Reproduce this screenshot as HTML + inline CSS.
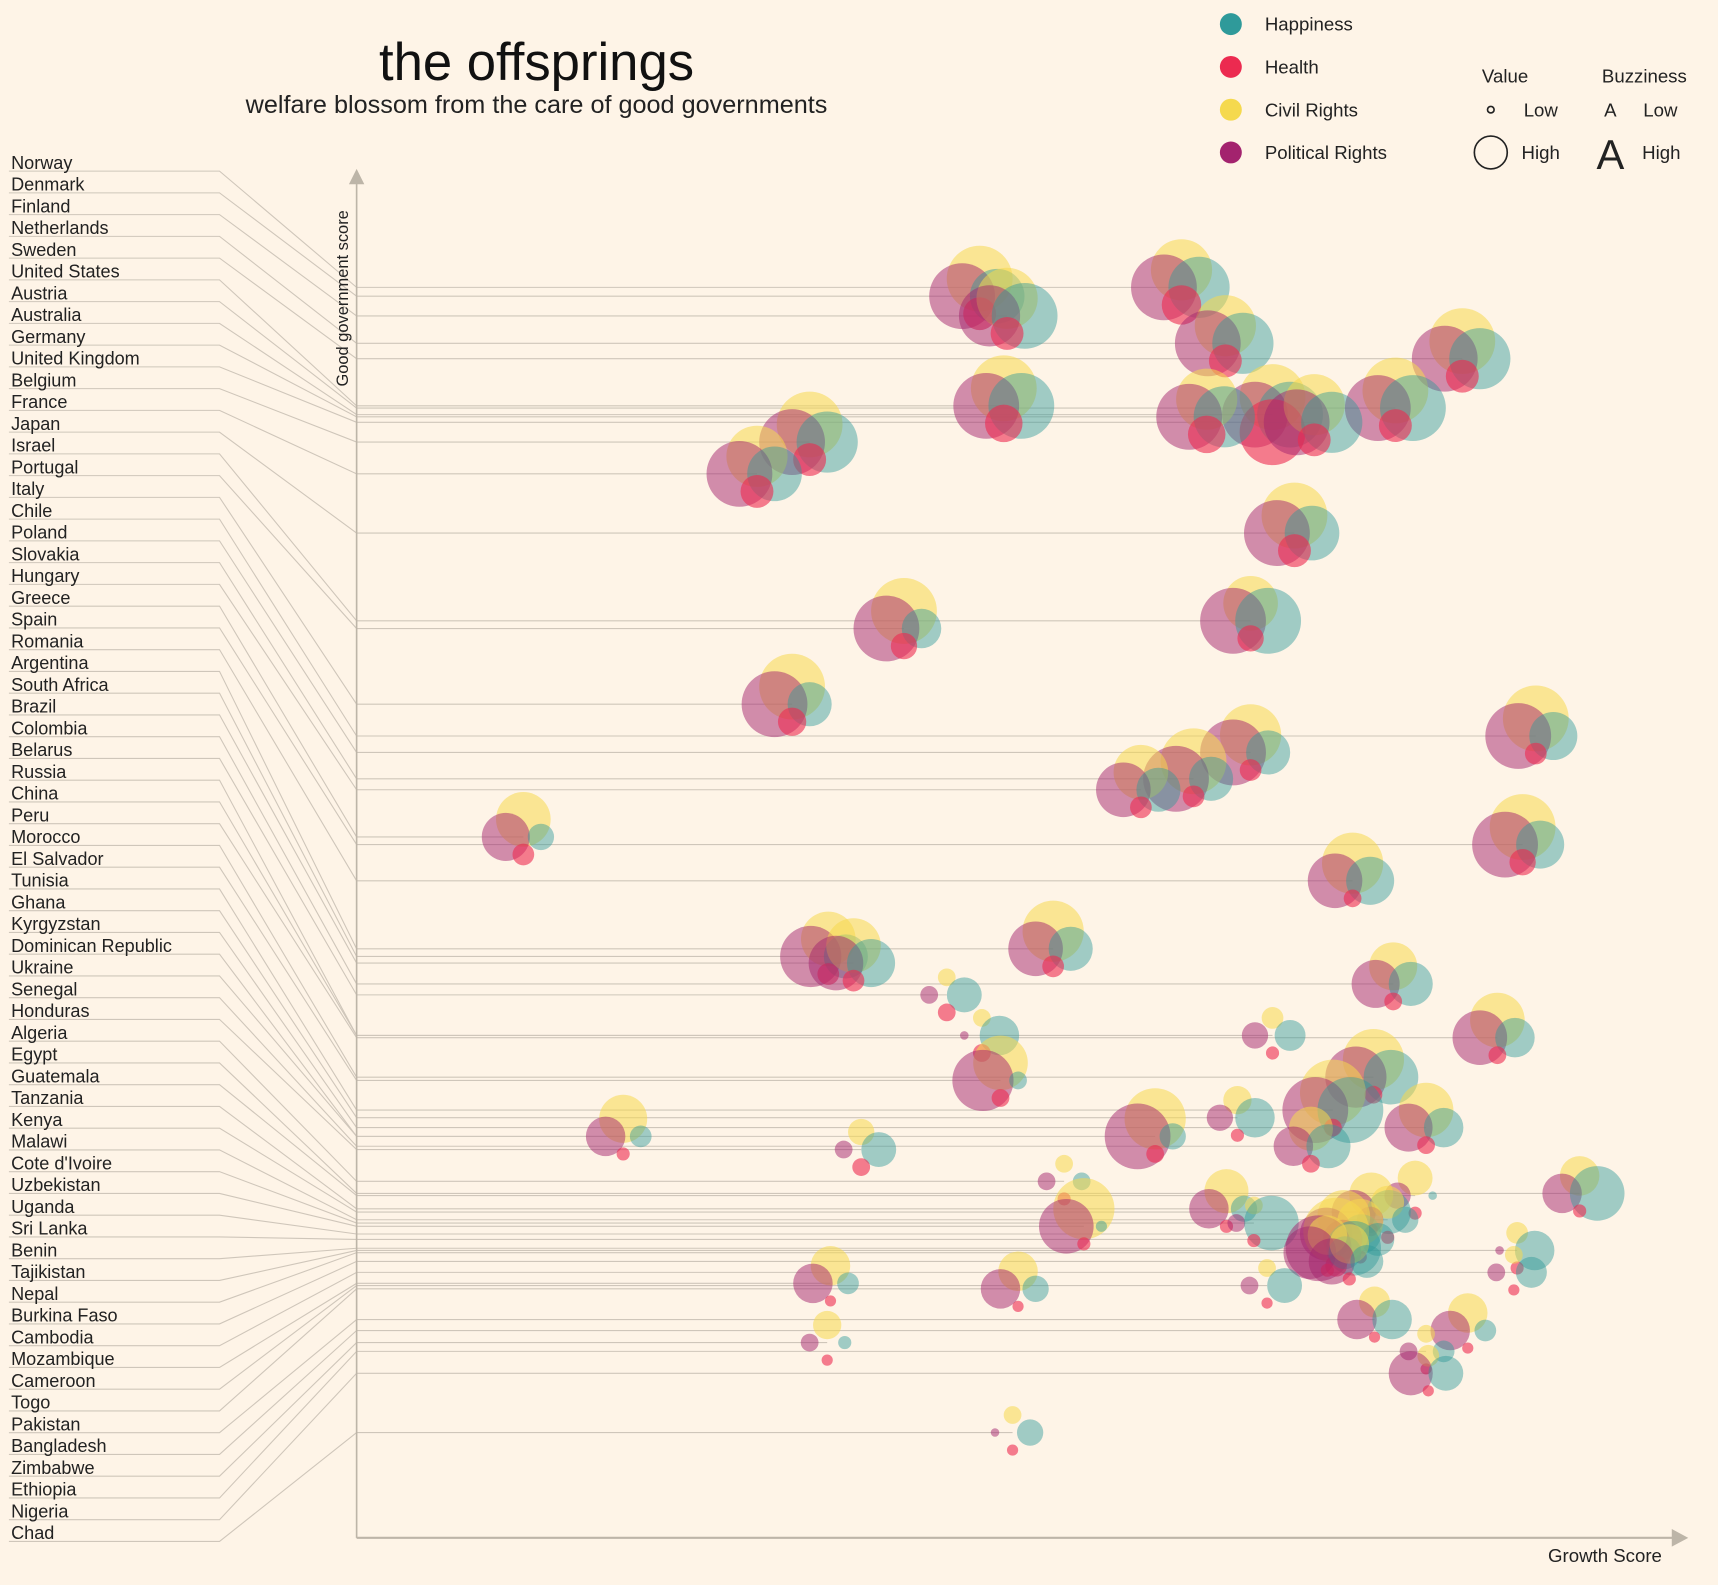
<!DOCTYPE html>
<html><head><meta charset="utf-8"><style>
html,body{margin:0;padding:0;background:#fef4e7;}
svg{display:block;font-family:"Liberation Sans",sans-serif;}
</style></head><body>
<svg id="chart" width="1718" height="1585" viewBox="0 0 1566 1445" xmlns="http://www.w3.org/2000/svg">
<rect x="0" y="0" width="1566" height="1445" fill="#fef4e7"/>
<text x="489" y="73" text-anchor="middle" font-size="48" fill="#111">the offsprings</text>
<text x="489" y="103" text-anchor="middle" font-size="23" fill="#222">welfare blossom from the care of good governments</text>
<g font-size="17" fill="#222">
<circle cx="1122" cy="22" r="10" fill="#2f9a9a"/>
<text x="1153" y="28">Happiness</text>
<circle cx="1122" cy="61" r="10" fill="#ec2a50"/>
<text x="1153" y="67">Health</text>
<circle cx="1122" cy="100" r="10" fill="#f5d94e"/>
<text x="1153" y="106">Civil Rights</text>
<circle cx="1122" cy="139" r="10" fill="#a3236e"/>
<text x="1153" y="145">Political Rights</text>
<text x="1372" y="75" text-anchor="middle">Value</text>
<circle cx="1359" cy="100" r="3" fill="none" stroke="#222" stroke-width="1.5"/>
<text x="1389" y="106">Low</text>
<circle cx="1359" cy="139" r="15" fill="none" stroke="#222" stroke-width="1.5"/>
<text x="1387" y="145">High</text>
<text x="1499" y="75" text-anchor="middle">Buzziness</text>
<text x="1468" y="106" text-anchor="middle" font-size="17">A</text>
<text x="1498" y="106">Low</text>
<text x="1468" y="154" text-anchor="middle" font-size="38">A</text>
<text x="1497" y="145">High</text>
</g>
<g id="connectors"></g>
<g id="labels"></g>
<g id="bubbles"></g>
<g>
<line x1="325" y1="165" x2="325" y2="1402" stroke="#bdb5a8" stroke-width="1.5"/>
<polygon points="318,168 325,154 332,168" fill="#bdb5a8"/>
<line x1="325" y1="1402" x2="1525" y2="1402" stroke="#bdb5a8" stroke-width="2"/>
<polygon points="1524,1394 1539,1402 1524,1410" fill="#bdb5a8"/>
<text x="1515" y="1424" text-anchor="end" font-size="17" fill="#222">Growth Score</text>
<text transform="translate(317,272) rotate(-90)" text-anchor="middle" font-size="15" fill="#222">Good government score</text>
</g>
</svg>
<script>
const countries = ["Norway","Denmark","Finland","Netherlands","Sweden","United States","Austria","Australia","Germany","United Kingdom","Belgium","France","Japan","Israel","Portugal","Italy","Chile","Poland","Slovakia","Hungary","Greece","Spain","Romania","Argentina","South Africa","Brazil","Colombia","Belarus","Russia","China","Peru","Morocco","El Salvador","Tunisia","Ghana","Kyrgyzstan","Dominican Republic","Ukraine","Senegal","Honduras","Algeria","Egypt","Guatemala","Tanzania","Kenya","Cote d'Ivoire","Uzbekistan","Malawi","Uganda","Benin","Sri Lanka","Tajikistan","Nepal","Burkina Faso","Cambodia","Mozambique","Cameroon","Togo","Pakistan","Bangladesh","Zimbabwe","Ethiopia","Nigeria","Chad"];
const growth = [75.2,56.8,59.3,79.2,100.8,59.0,94.7,83.5,77.5,87.3,41.3,36.5,85.5,81.5,49.9,39.7,107.5,81.5,76.3,71.5,15.2,106.3,90.8,63.5,43.0,45.3,94.5,53.8,57.0,83.5,104.0,92.7,58.7,89.0,80.3,97.5,24.3,72.8,87.0,46.0,64.5,111.5,96.5,79.3,92.5,81.8,66.3,94.0,90.0,89.3,91.5,105.8,88.5,90.5,105.5,43.2,83.0,60.3,92.8,101.3,42.9,97.5,97.7,59.8];
const govScore = [114.0,113.2,111.4,108.9,107.5,103.2,103.0,102.4,102.2,101.7,99.9,97.0,91.6,83.6,82.9,76.0,73.1,71.6,69.2,68.2,63.9,63.2,59.9,53.7,53.0,52.4,50.5,49.5,45.8,45.8,45.6,42.0,41.7,39.0,38.3,37.4,36.6,36.6,35.7,35.4,32.5,31.4,31.2,30.0,29.7,28.7,28.4,29.0,27.7,26.4,27.2,26.2,26.0,25.2,24.2,23.2,23.0,22.7,19.9,18.9,17.8,17.0,15.0,9.6];
const politicalRights = [10,10,9.3,10,10,10,10,10,10,10,10,10,10,10,10,10,10,10,10,8.3,7.3,10,8.3,8.3,9.3,8.3,7.3,2.7,1.3,4,8.3,9.3,9.3,10,4,7.3,6,10,6,2.7,2.7,6,4,6,6.7,2.7,8.3,4,8,10,6,1.3,8,7,2.7,6,2.7,6,6,6,2.7,2.7,6.7,1.3];
const civilRights = [9.3,10,9.3,9.3,10,10,10,10,9.3,9.3,10,9.3,10,8.3,10,10,10,9.3,10,8.3,8.3,10,9.3,9.3,8.3,8.3,7.3,2.7,2.7,3.3,8.3,9.3,8.3,10,4.3,8.3,7.3,9.3,6.7,4,2.7,6,5.3,6.7,6.7,2.7,9.3,5,8,10,7,3.3,6,6,2.7,6,2.7,6,4.7,6,4.3,2.7,3.3,2.7];
const happiness = [9.3,8.3,10,9.3,9.3,10,10,10,9.3,9.3,9.3,8.3,8.3,10,6,6.7,7.3,6.7,6.7,6.7,4,7.3,7.3,6.7,6.7,7.3,6.7,5.3,6,4.7,6,8.3,2.7,10,6,6,3.3,4,6.7,5.3,2.7,8.3,1.3,4,6.7,8.3,1.7,4,6,8.3,5,6,5,5,4.7,3.3,5.3,4,6,3.3,2,3.3,5.3,4];
const health = [6,5,5,5,5,5.7,5,10,5.7,5,5,5,5,4,4,4.3,3.3,3.3,3.3,3.3,3.3,4,2.7,3.3,3.3,3.3,2.7,2.7,2.7,2,2.7,2.7,2.7,2.7,2,2.7,2,2.7,2.7,2.7,2,2,2,2,2,2,2,2,2.5,3.3,2,2,2,2,1.7,1.7,1.7,1.7,1.7,1.7,1.7,1.7,1.7,1.7];

const NS = "http://www.w3.org/2000/svg";
const xScale = v => 325 + v * 10;
const yScale = v => 1402 - v * 10;
const rScale = v => v * 3;
const OFF = 16;
const gConn = document.getElementById("connectors");
const gLab = document.getElementById("labels");
const gBub = document.getElementById("bubbles");
function mk(tag, attrs, parent) {
  const el = document.createElementNS(NS, tag);
  for (const k in attrs) el.setAttribute(k, attrs[k]);
  parent.appendChild(el);
  return el;
}
// row order by gov score descending
const order = countries.map((c, i) => i).sort((a, b) => govScore[b] - govScore[a]);
order.forEach((idx, rank) => {
  const ly = 148 + rank * 19.83;
  const ry = yScale(govScore[idx]);
  const cx = xScale(growth[idx]);
  const t = mk("text", {x: 10, y: ly + 6, "font-size": 16.5, fill: "#222"}, gLab);
  t.textContent = countries[idx];
  
  
  const p = mk("polyline", {points: `8,${ly+8} 200,${ly+8} 325,${ry} ${cx},${ry}`, fill: "none", stroke: "#cfc6ba", "stroke-width": 1}, gConn);
  
  
  const g = mk("g", {}, gBub);
  
  
  const cy = ry;
  const c1 = mk("circle", {cx: cx, cy: cy - OFF, r: rScale(civilRights[idx]), fill: "#f5d94e", "fill-opacity": 0.55}, g);
  
  
  const c2 = mk("circle", {cx: cx - OFF, cy: cy, r: rScale(politicalRights[idx]), fill: "#a3236e", "fill-opacity": 0.5}, g);
  
  
  const c3 = mk("circle", {cx: cx + OFF, cy: cy, r: rScale(happiness[idx]), fill: "#2f9a9a", "fill-opacity": 0.45}, g);
  
  
  const c4 = mk("circle", {cx: cx, cy: cy + OFF, r: rScale(health[idx]), fill: "#ec2a50", "fill-opacity": 0.6}, g);
  
  
});
</script>
</body></html>
